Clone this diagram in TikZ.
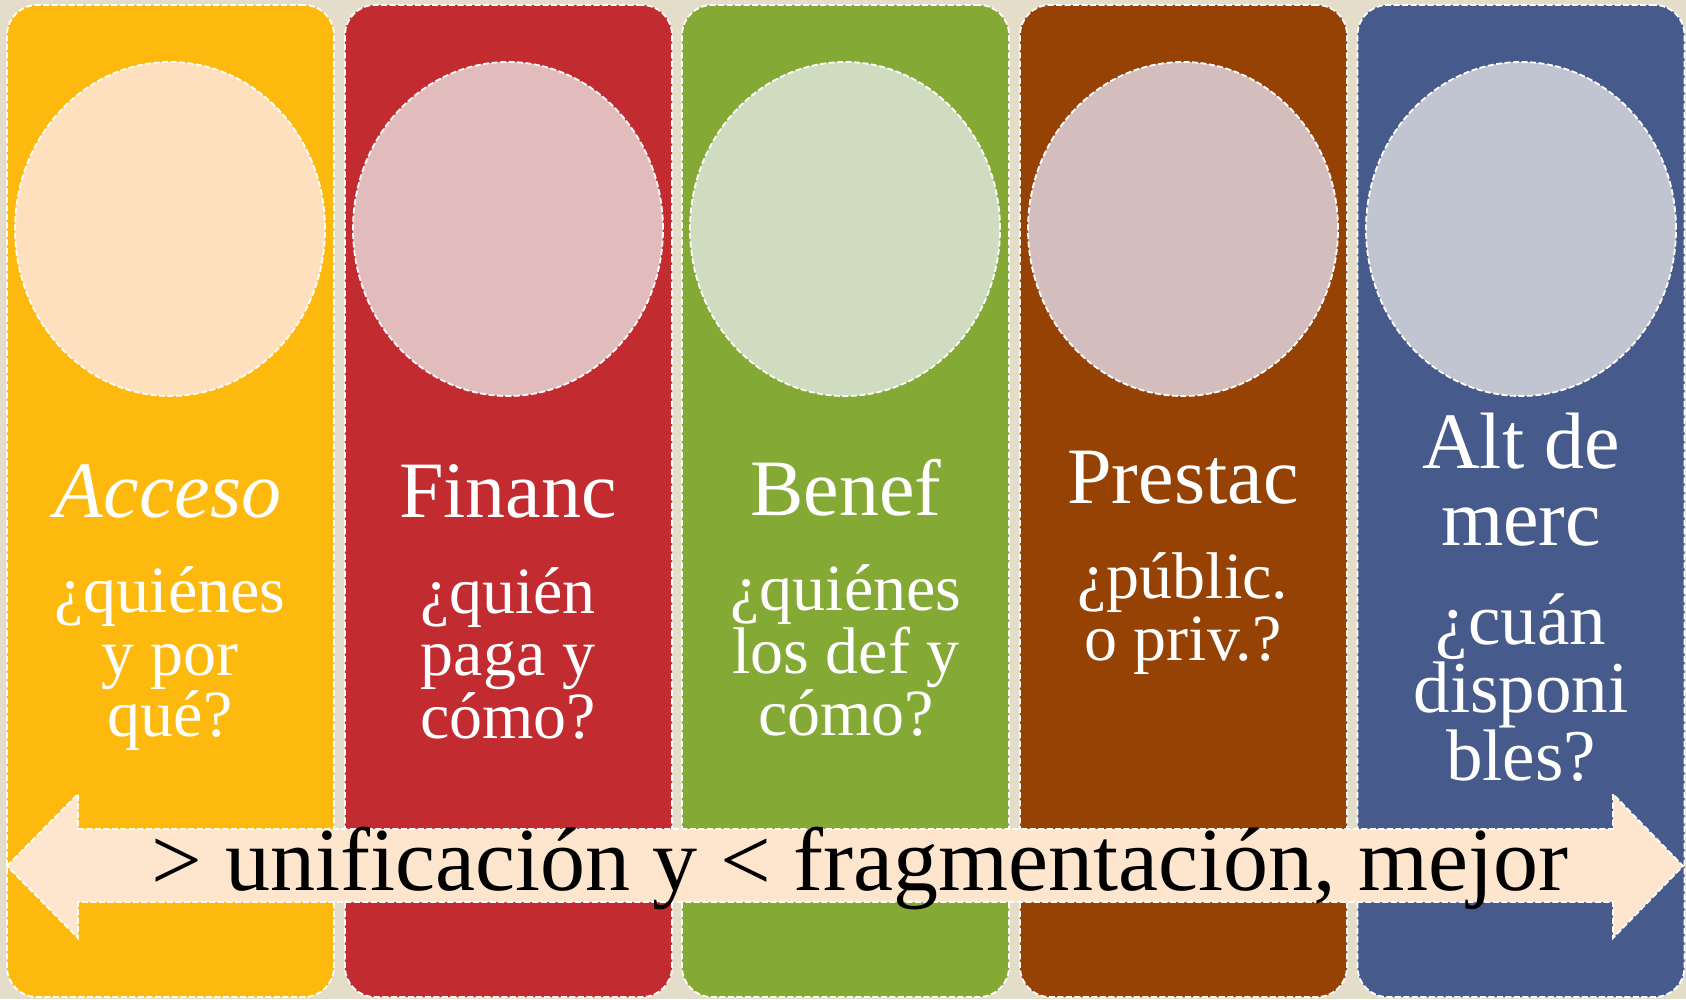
\documentclass[tikz,border=0pt]{standalone}
\usepackage{fontspec}
\setmainfont{Liberation Serif}
\usetikzlibrary{shapes.geometric}
\definecolor{bgc}{HTML}{E4DDCA}
\definecolor{c1}{HTML}{FDB90E}
\definecolor{c2}{HTML}{C22C31}
\definecolor{c3}{HTML}{85A935}
\definecolor{c4}{HTML}{974205}
\definecolor{c5}{HTML}{475A8C}
\definecolor{e1}{HTML}{FEE0BE}
\definecolor{e2}{HTML}{E2BCBD}
\definecolor{e3}{HTML}{CFDCC0}
\definecolor{e4}{HTML}{D4BEBD}
\definecolor{e5}{HTML}{C1C4D1}
\definecolor{arr}{HTML}{FEE6CE}
\begin{document}
\begin{tikzpicture}[x=1pt,y=-1pt,
  brd/.style={draw=white, dash pattern=on 6pt off 2.5pt, line width=1.8pt},
  col/.style={brd, rounded corners=30pt, minimum width=327pt, minimum height=992pt, inner sep=0pt},
  oval/.style={brd, ellipse, minimum width=310pt, minimum height=334pt, inner sep=0pt},
  ttl/.style={text=white, font=\fontsize{80}{80}\selectfont, inner sep=0pt, anchor=base},
  qst/.style={text=white, font=\fontsize{66}{66}\selectfont, inner sep=0pt, anchor=base},
  qstb/.style={qst, font=\fontsize{73}{73}\selectfont},
]
\fill[bgc] (0,0) rectangle (1686,999);
\useasboundingbox (0,0) rectangle (1686,999);
% columns
\node[col, fill=c1] (k1) at (170.5,501) {};
\node[col, fill=c2] (k2) at (508.5,501) {};
\node[col, fill=c3] (k3) at (845.5,501) {};
\node[col, fill=c4] (k4) at (1183.5,501) {};
\node[col, fill=c5] (k5) at (1521,501) {};
% ovals
\node[oval, fill=e1] (o1) at (170,229) {};
\node[oval, fill=e2] (o2) at (508,229) {};
\node[oval, fill=e3] (o3) at (845,229) {};
\node[oval, fill=e4] (o4) at (1183,229) {};
\node[oval, fill=e5] (o5) at (1521,229) {};
% column 1
\node[ttl] (t1) at (168,517) {\itshape Acceso};
\node[qst] (q1a) at (170,612) {¿quiénes};
\node[qst] (q1b) at (170,675) {y por};
\node[qst] (q1c) at (170,736) {qué?};
% column 2
\node[ttl] (t2) at (508,517) {Financ};
\node[qst] (q2a) at (508,613) {¿quién};
\node[qst] (q2b) at (508,675) {paga y};
\node[qst] (q2c) at (508,738) {cómo?};
% column 3
\node[ttl] (t3) at (846,515) {Benef};
\node[qst] (q3a) at (846,610) {¿quiénes};
\node[qst] (q3b) at (846,673) {los def y};
\node[qst] (q3c) at (846,735) {cómo?};
% column 4
\node[ttl] (t4) at (1183,503) {Prestac};
\node[qst] (q4a) at (1183,598) {¿públic.};
\node[qst] (q4b) at (1183,660) {o priv.?};
% column 5
\node[ttl] (t5a) at (1521,468) {Alt de};
\node[ttl] (t5b) at (1521,545) {merc};
\node[qstb] (q5a) at (1521,644) {¿cuán};
\node[qstb] (q5b) at (1521,712) {disponi};
\node[qstb] (q5c) at (1521,780) {bles?};
% banner arrow
\coordinate (tipL) at (7,866);
\coordinate (tipR) at (1683,866);
\draw[brd, fill=arr] (tipL) -- (78,794) -- (78,829) -- (1613,829) -- (1613,794) -- (tipR)
  -- (1613,938) -- (1613,902) -- (78,902) -- (78,938) -- cycle;
\node[inner sep=0pt, anchor=base, font=\fontsize{90}{90}\selectfont] (banner) at (860,890)
  {> unificación y < fragmentación, mejor};
\end{tikzpicture}
\end{document}
